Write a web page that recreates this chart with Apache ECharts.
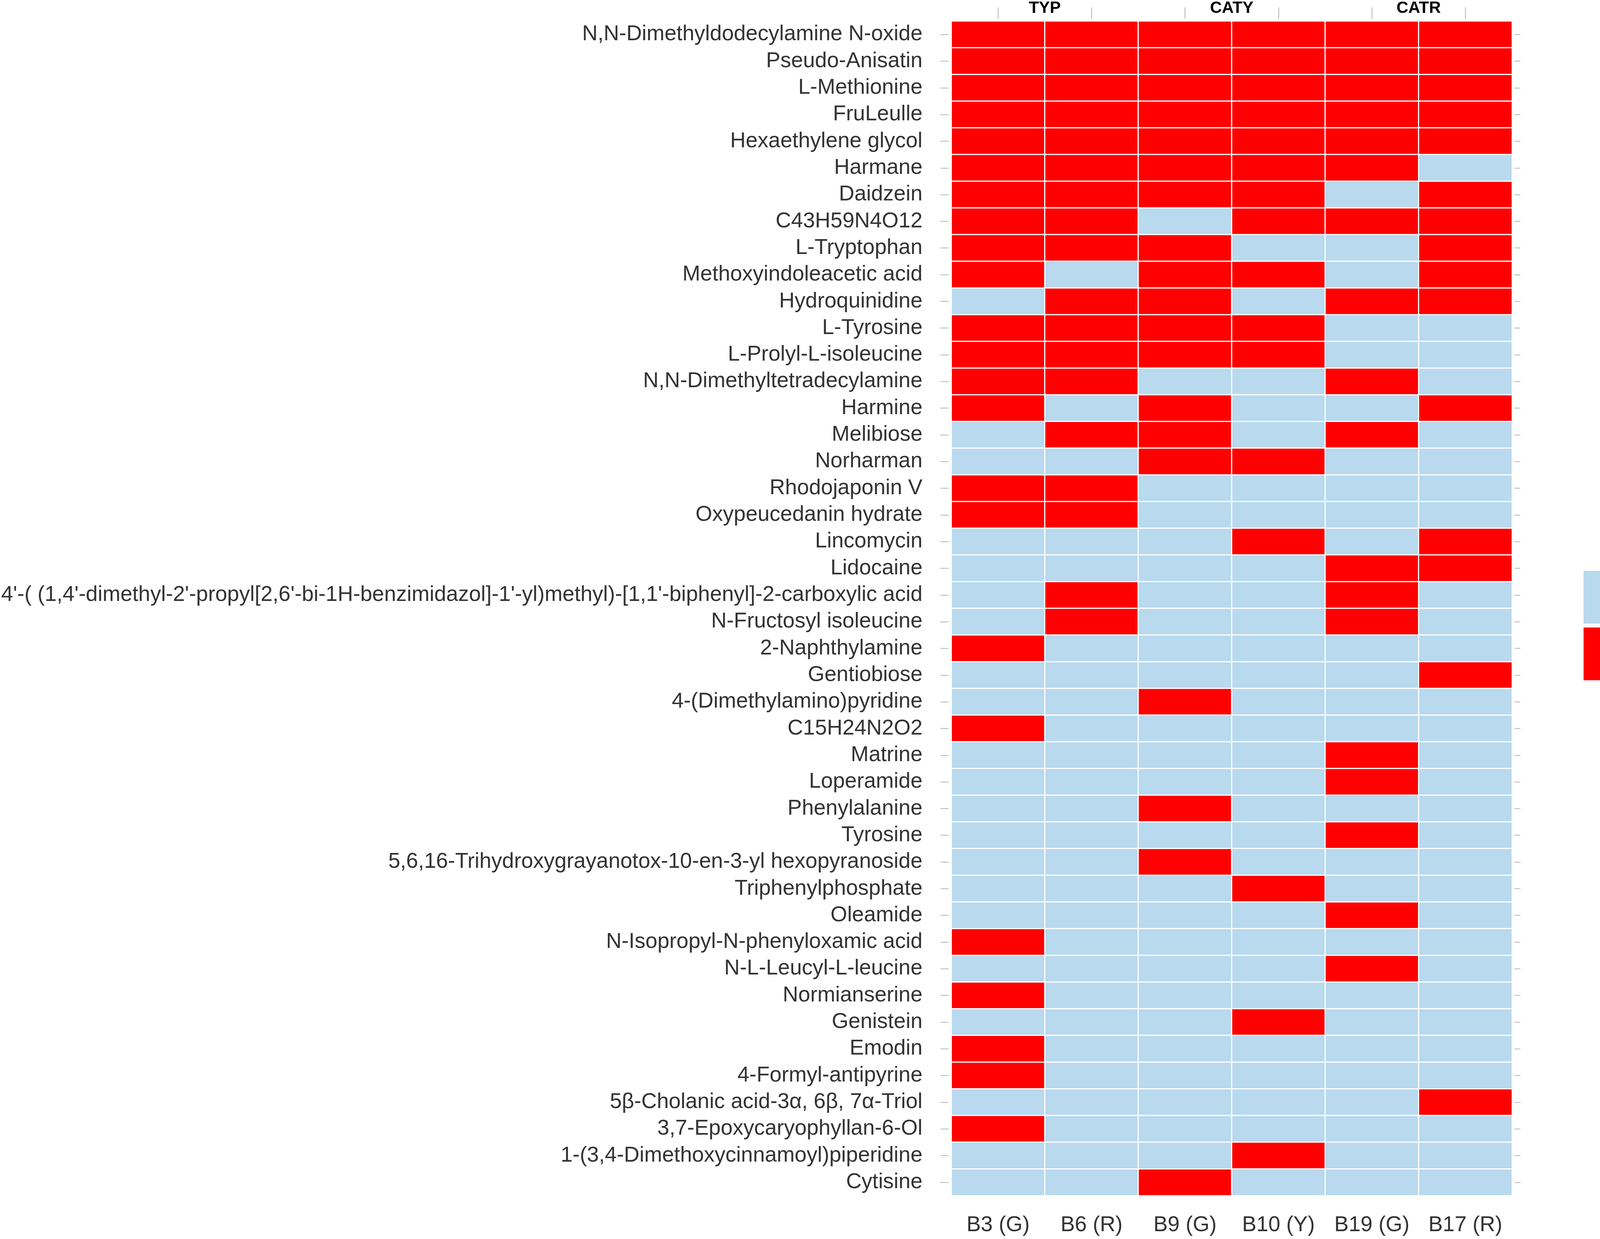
<!DOCTYPE html>
<html>
<head>
<meta charset="utf-8">
<script src="https://cdn.jsdelivr.net/npm/echarts@6/dist/echarts.min.js"></script>
<style>
html,body{margin:0;padding:0;background:#fff;overflow:hidden;}
#chart{width:4317px;height:3171px;}
</style>
</head>
<body>
<div id="chart"></div>
<script>
const samples = ['B3 (G)', 'B6 (R)', 'B9 (G)', 'B10 (Y)', 'B19 (G)', 'B17 (R)'];
const groups = ['TYP', 'CATY', 'CATR'];
const compounds = [
  'N,N-Dimethyldodecylamine N-oxide',
  'Pseudo-Anisatin',
  'L-Methionine',
  'FruLeulle',
  'Hexaethylene glycol',
  'Harmane',
  'Daidzein',
  'C43H59N4O12',
  'L-Tryptophan',
  'Methoxyindoleacetic acid',
  'Hydroquinidine',
  'L-Tyrosine',
  'L-Prolyl-L-isoleucine',
  'N,N-Dimethyltetradecylamine',
  'Harmine',
  'Melibiose',
  'Norharman',
  'Rhodojaponin V',
  'Oxypeucedanin hydrate',
  'Lincomycin',
  'Lidocaine',
  "4'-( (1,4'-dimethyl-2'-propyl[2,6'-bi-1H-benzimidazol]-1'-yl)methyl)-[1,1'-biphenyl]-2-carboxylic acid",
  'N-Fructosyl isoleucine',
  '2-Naphthylamine',
  'Gentiobiose',
  '4-(Dimethylamino)pyridine',
  'C15H24N2O2',
  'Matrine',
  'Loperamide',
  'Phenylalanine',
  'Tyrosine',
  '5,6,16-Trihydroxygrayanotox-10-en-3-yl hexopyranoside',
  'Triphenylphosphate',
  'Oleamide',
  'N-Isopropyl-N-phenyloxamic acid',
  'N-L-Leucyl-L-leucine',
  'Normianserine',
  'Genistein',
  'Emodin',
  '4-Formyl-antipyrine',
  '5β-Cholanic acid-3α, 6β, 7α-Triol',
  '3,7-Epoxycaryophyllan-6-Ol',
  '1-(3,4-Dimethoxycinnamoyl)piperidine',
  'Cytisine'
];
// presence (1 = +, 0 = -) per compound, columns in order of samples
const presence = [
  [1,1,1,1,1,1],
  [1,1,1,1,1,1],
  [1,1,1,1,1,1],
  [1,1,1,1,1,1],
  [1,1,1,1,1,1],
  [1,1,1,1,1,0],
  [1,1,1,1,0,1],
  [1,1,0,1,1,1],
  [1,1,1,0,0,1],
  [1,0,1,1,0,1],
  [0,1,1,0,1,1],
  [1,1,1,1,0,0],
  [1,1,1,1,0,0],
  [1,1,0,0,1,0],
  [1,0,1,0,0,1],
  [0,1,1,0,1,0],
  [0,0,1,1,0,0],
  [1,1,0,0,0,0],
  [1,1,0,0,0,0],
  [0,0,0,1,0,1],
  [0,0,0,0,1,1],
  [0,1,0,0,1,0],
  [0,1,0,0,1,0],
  [1,0,0,0,0,0],
  [0,0,0,0,0,1],
  [0,0,1,0,0,0],
  [1,0,0,0,0,0],
  [0,0,0,0,1,0],
  [0,0,0,0,1,0],
  [0,0,1,0,0,0],
  [0,0,0,0,1,0],
  [0,0,1,0,0,0],
  [0,0,0,1,0,0],
  [0,0,0,0,1,0],
  [1,0,0,0,0,0],
  [0,0,0,0,1,0],
  [1,0,0,0,0,0],
  [0,0,0,1,0,0],
  [1,0,0,0,0,0],
  [1,0,0,0,0,0],
  [0,0,0,0,0,1],
  [1,0,0,0,0,0],
  [0,0,0,1,0,0],
  [0,0,1,0,0,0]
];
const legendLabels = ['(-)', '(+)'];

const cells = [];
presence.forEach((row, r) => row.forEach((v, c) => cells.push([c, r, v])));

const FONT = '"Liberation Sans", Arial, sans-serif';
const chart = echarts.init(document.getElementById('chart'));
chart.setOption({
  backgroundColor: '#ffffff',
  animation: false,
  textStyle: { fontFamily: FONT },
  grid: { left: 2418, right: 446, top: 53, bottom: 111 },
  xAxis: [
    {
      type: 'category', data: samples, position: 'bottom',
      axisLine: { show: false }, axisTick: { show: false }, splitLine: { show: false },
      axisLabel: { fontSize: 55, color: '#333333', margin: 48, interval: 0, fontFamily: FONT }
    },
    {
      type: 'category', data: samples, position: 'top', offset: 6,
      axisLine: { show: false },
      axisTick: { show: true, alignWithLabel: true, length: 29, lineStyle: { color: '#cccccc', width: 3 } },
      axisLabel: { show: false }, splitLine: { show: false }
    },
    {
      type: 'category', data: groups, position: 'top',
      axisLine: { show: false }, axisTick: { show: false }, splitLine: { show: false },
      axisLabel: { fontSize: 42, fontWeight: 'bold', color: '#000000', margin: 12, interval: 0, fontFamily: FONT }
    }
  ],
  yAxis: [
    {
      type: 'category', data: compounds, inverse: true, position: 'left', offset: 7,
      axisLine: { show: false },
      axisTick: { show: true, alignWithLabel: true, length: 21, lineStyle: { color: '#cccccc', width: 3 } },
      axisLabel: { fontSize: 55, color: '#333333', margin: 67, interval: 0, fontFamily: FONT },
      splitLine: { show: false }
    },
    {
      type: 'category', data: compounds, inverse: true, position: 'right', offset: 6,
      axisLine: { show: false },
      axisTick: { show: true, alignWithLabel: true, length: 15, lineStyle: { color: '#cccccc', width: 3 } },
      axisLabel: { show: false }, splitLine: { show: false }
    }
  ],
  visualMap: {
    type: 'piecewise',
    orient: 'vertical',
    inverse: true,
    align: 'left',
    left: 4054,
    top: 1461,
    padding: 0,
    itemWidth: 135,
    itemHeight: 135,
    itemGap: 10,
    textGap: 58,
    itemSymbol: 'rect',
    showLabel: true,
    hoverLink: false,
    selectedMode: false,
    dimension: 2,
    seriesIndex: 0,
    textStyle: { fontSize: 52, color: '#000000', fontFamily: FONT },
    pieces: [
      { value: 0, label: legendLabels[0], color: '#B8D9EE' },
      { value: 1, label: legendLabels[1], color: '#FF0000' }
    ]
  },
  series: [{
    type: 'heatmap',
    xAxisIndex: 0,
    yAxisIndex: 0,
    data: cells,
    itemStyle: { borderColor: '#ffffff', borderWidth: 3 },
    emphasis: { disabled: true }
  }]
});
</script>
</body>
</html>
